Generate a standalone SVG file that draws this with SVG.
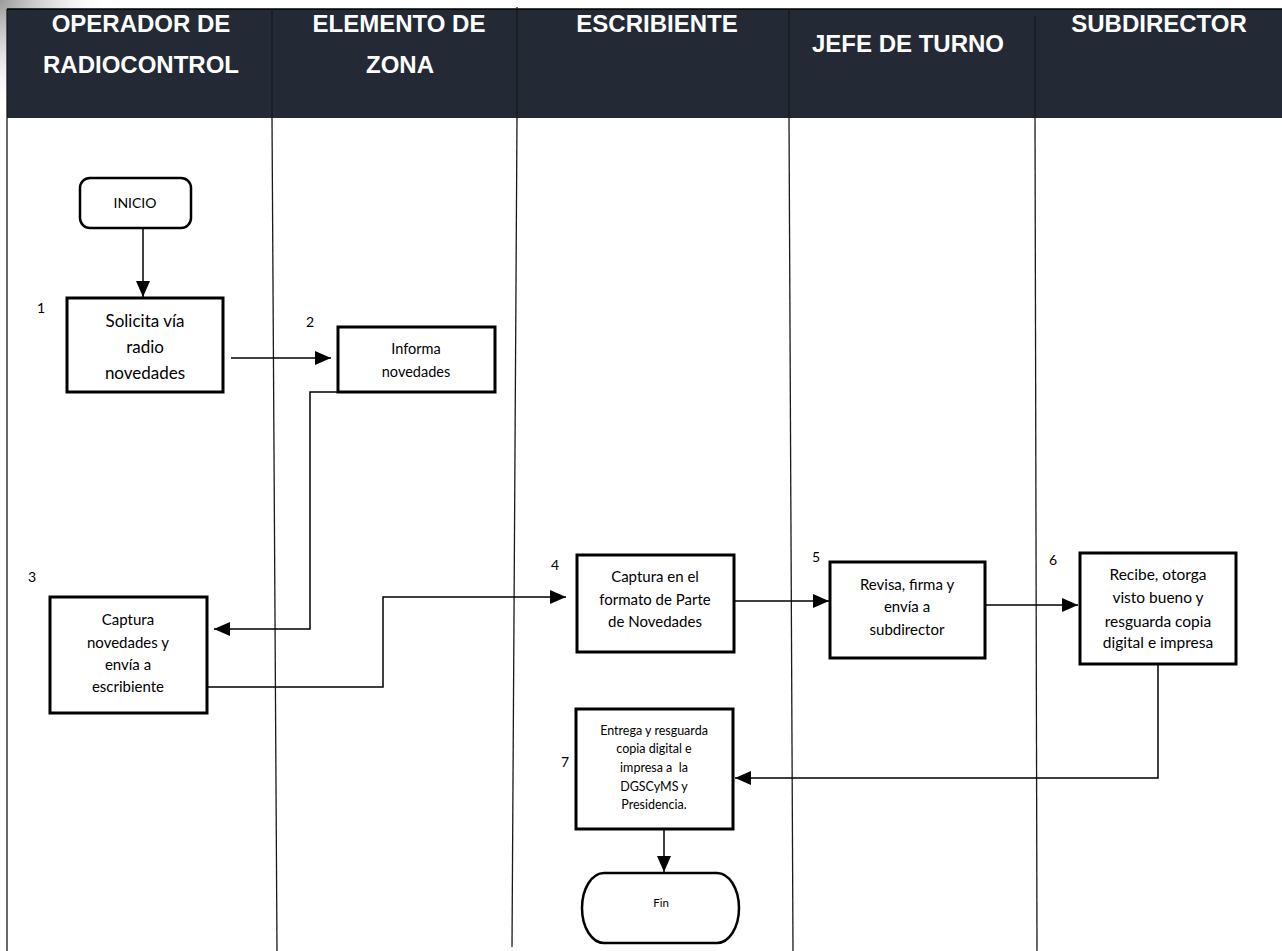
<svg xmlns="http://www.w3.org/2000/svg" width="1282" height="951" viewBox="0 0 1282 951">
<defs>
<radialGradient id="shade" cx="0" cy="0" r="110" gradientUnits="userSpaceOnUse">
<stop offset="0" stop-color="#9a9a9a"/>
<stop offset="0.5" stop-color="#d6d6d6" stop-opacity="0.7"/>
<stop offset="1" stop-color="#ffffff" stop-opacity="0"/>
</radialGradient>
<marker id="ah" markerUnits="userSpaceOnUse" markerWidth="16" markerHeight="14" refX="16" refY="7" orient="auto">
<path d="M0,0 L16,7 L0,14 Z" fill="#000"/>
</marker>
<style>
.hd{font-family:"Liberation Sans",Arial,sans-serif;font-weight:bold;font-size:24px;fill:#ffffff;text-anchor:middle}
.lane{stroke:#1a1a1a;stroke-width:1.3;fill:none}
.box{fill:#ffffff;stroke:#000;stroke-width:3}
.term{fill:#ffffff;stroke:#000;stroke-width:2.5}
.t{font-family:Lato,"Liberation Sans",sans-serif;fill:#000;text-anchor:middle}
.num{font-family:Lato,"Liberation Sans",sans-serif;font-size:14px;fill:#000;text-anchor:middle}
.cn{fill:none;stroke:#000;stroke-width:1.5}
</style>
</defs>
<rect x="0" y="0" width="1282" height="951" fill="#ffffff"/>
<rect x="0" y="0" width="110" height="140" fill="url(#shade)"/>

<g id="header">
<rect x="7" y="9" width="1275" height="109" fill="#232a36"/>
<line x1="7" y1="9" x2="1282" y2="9" stroke="#000" stroke-width="1.5"/>
<text class="hd" x="141" y="32">OPERADOR DE</text>
<text class="hd" x="141" y="73">RADIOCONTROL</text>
<text class="hd" x="399" y="32">ELEMENTO DE</text>
<text class="hd" x="400" y="73">ZONA</text>
<text class="hd" x="657" y="32">ESCRIBIENTE</text>
<text class="hd" x="908" y="52">JEFE DE TURNO</text>
<text class="hd" x="1159" y="32">SUBDIRECTOR</text>
</g>

<g id="lanes">
<line class="lane" x1="7" y1="9" x2="7" y2="951"/>
<line class="lane" x1="272" y1="9" x2="272" y2="118"/>
<line class="lane" x1="272" y1="118" x2="277" y2="951"/>
<line class="lane" x1="517" y1="7" x2="517" y2="118"/>
<line class="lane" x1="517" y1="118" x2="512" y2="947"/>
<line class="lane" x1="789" y1="9" x2="789" y2="118"/>
<line class="lane" x1="789" y1="118" x2="793" y2="951"/>
<line class="lane" x1="1035" y1="16" x2="1035" y2="118"/>
<line class="lane" x1="1035" y1="118" x2="1037" y2="951"/>
</g>

<g id="connectors">
<path class="cn" d="M143,228 V297" marker-end="url(#ah)"/>
<path class="cn" d="M231,358 H331" marker-end="url(#ah)"/>
<path class="cn" d="M338,392 H310 V629 H214" marker-end="url(#ah)"/>
<path class="cn" d="M203,687 H383 V597 H566" marker-end="url(#ah)"/>
<path class="cn" d="M734,601 H829" marker-end="url(#ah)"/>
<path class="cn" d="M985,605 H1078" marker-end="url(#ah)"/>
<path class="cn" d="M1158,664 V778 H735" marker-end="url(#ah)"/>
<path class="cn" d="M664,829 V872" marker-end="url(#ah)"/>
</g>

<g id="inicio">
<rect class="term" x="80" y="178" width="111" height="50" rx="10"/>
<text class="t" x="135" y="208" font-size="14">INICIO</text>
</g>

<g id="step1">
<rect class="box" x="67" y="298" width="156" height="94"/>
<text class="num" x="41" y="313">1</text>
<text class="t" x="145" y="327" font-size="17">Solicita vía</text>
<text class="t" x="145" y="353" font-size="17">radio</text>
<text class="t" x="145" y="379" font-size="17">novedades</text>
</g>

<g id="step2">
<rect class="box" x="338" y="327" width="157" height="65"/>
<text class="num" x="310" y="327">2</text>
<text class="t" x="416" y="354" font-size="14.5">Informa</text>
<text class="t" x="416" y="377" font-size="14.5">novedades</text>
</g>

<g id="step3">
<rect class="box" x="50" y="597" width="157" height="116"/>
<text class="num" x="32" y="582">3</text>
<text class="t" x="128" y="625" font-size="15">Captura</text>
<text class="t" x="128" y="648" font-size="15">novedades y</text>
<text class="t" x="128" y="670" font-size="15">envía a</text>
<text class="t" x="128" y="692" font-size="15">escribiente</text>
</g>

<g id="step4">
<rect class="box" x="577" y="555" width="157" height="97"/>
<text class="num" x="555" y="570">4</text>
<text class="t" x="655" y="582" font-size="15">Captura en el</text>
<text class="t" x="655" y="605" font-size="15">formato de Parte</text>
<text class="t" x="655" y="627" font-size="15">de Novedades</text>
</g>

<g id="step5">
<rect class="box" x="830" y="562" width="155" height="96"/>
<text class="num" x="816" y="562">5</text>
<text class="t" x="907" y="590" font-size="15">Revisa, firma y</text>
<text class="t" x="907" y="612" font-size="15">envía a</text>
<text class="t" x="907" y="635" font-size="15">subdirector</text>
</g>

<g id="step6">
<rect class="box" x="1080" y="553" width="156" height="111"/>
<text class="num" x="1053" y="565">6</text>
<text class="t" x="1158" y="580" font-size="15.5">Recibe, otorga</text>
<text class="t" x="1158" y="603" font-size="15.5">visto bueno y</text>
<text class="t" x="1158" y="627" font-size="15.5">resguarda copia</text>
<text class="t" x="1158" y="648" font-size="15.5">digital e impresa</text>
</g>

<g id="step7">
<rect class="box" x="576" y="709" width="157" height="120"/>
<text class="num" x="565" y="767">7</text>
<text class="t" x="654" y="735" font-size="12.5">Entrega y resguarda</text>
<text class="t" x="654" y="753" font-size="12.5">copia digital e</text>
<text class="t" x="654" y="772" font-size="12.5" xml:space="preserve">impresa a  la</text>
<text class="t" x="654" y="791" font-size="12.5">DGSCyMS y</text>
<text class="t" x="654" y="809" font-size="12.5">Presidencia.</text>
</g>

<g id="fin">
<path class="term" d="M604,873 H717 A22,35 0 0 1 717,943 H604 A22,35 0 0 1 604,873 Z"/>
<text class="t" x="661" y="907" font-size="11.5">Fin</text>
</g>
</svg>
